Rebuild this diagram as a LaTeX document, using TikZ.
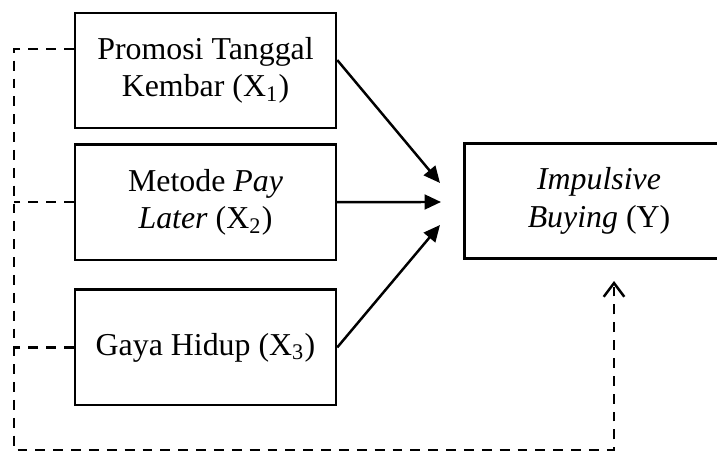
\documentclass[tikz,border=0pt]{standalone}
\usepackage{fontspec}
\setmainfont{Liberation Serif}
\usetikzlibrary{arrows.meta, calc, positioning}

\begin{document}
\begin{tikzpicture}[
  x=0.364pt, y=-0.364pt,
  font=\fontsize{11.6}{13.6}\selectfont,
  var/.style={draw, line width=0.9pt, align=center, minimum width=95pt, minimum height=42pt, inner sep=2pt},
  arrow/.style={-{Triangle[length=6pt, width=5.4pt]}, line width=0.9pt},
  dashline/.style={line width=0.9pt, dash pattern=on 3.6pt off 2.9pt}
]
\useasboundingbox (0,0) rectangle (717,452);

% Independent variables
\node[var] (x1) at (205.5,70.5) {Promosi Tanggal\\Kembar (X\textsubscript{1})};
\node[var, below=5pt of x1] (x2) {Metode \textit{Pay}\\\textit{Later} (X\textsubscript{2})};
\node[var, below=10pt of x2] (x3) {Gaya Hidup (X\textsubscript{3})};

% Dependent variable
\node[var, minimum width=98pt] (y) at (599,201) {\textit{Impulsive}\\\textit{Buying} (Y)};

% Arrow ends
\coordinate (t1) at (440,183);
\coordinate (t2) at (441,202);
\coordinate (t3) at (440,225);

% Dashed frame corners
\coordinate (tl) at (14,49);
\coordinate (bl) at (14,450);
\coordinate (br) at (614,450);
\coordinate (tip) at (614,281);

% Arrows
\draw[arrow] ([yshift=3.8pt]x1.east) -- (t1);
\draw[arrow] (x2.east) -- (t2);
\draw[arrow] (x3.east) -- (t3);

% Simultaneous effect
\draw[dashline, -{Straight Barb[length=5pt, width=7.5pt, line width=0.9pt]}] (x1.west |- tl) -- (tl) -- (bl) -- (br) -- (tip);
\draw[dashline] (x2.west) -- (x2.west -| tl);
\draw[dashline] (x3.west) -- (x3.west -| tl);

\end{tikzpicture}
\end{document}
